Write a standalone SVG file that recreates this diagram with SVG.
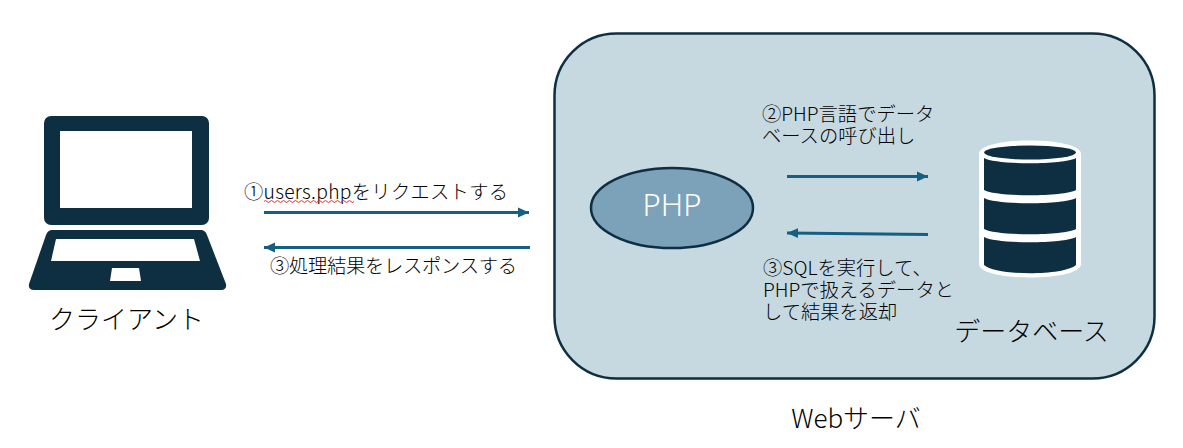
<svg xmlns="http://www.w3.org/2000/svg" width="1183" height="448" viewBox="0 0 1183 448">
<style>
text{font-family:"Noto Sans CJK JP","Liberation Sans",sans-serif;fill:#000;font-weight:300}
.m{font-size:19.3px}
.l{font-size:26px}
.c{fill:none;stroke:#156082;stroke-width:3}
.d{fill:#0e2f42}
.w{fill:#fff}
</style>
<defs>
<marker id="a" markerUnits="userSpaceOnUse" markerWidth="12" markerHeight="12" refX="11" refY="6" orient="auto"><path d="M0 1L11 6L0 11Z" fill="#156082"/></marker>
</defs>
<rect width="1183" height="448" fill="#fff"/>
<g id="server">
<rect x="554.500" y="33.500" width="600" height="345" rx="62" fill="#c6d8e0" stroke="#0e2f42" stroke-width="2.500"/>
<text class="l" x="856" y="428" text-anchor="middle">Webサーバ</text>
</g>
<g id="client">
<rect class="d" x="44" y="116" width="165" height="109" rx="7"/>
<rect class="w" x="60" y="131" width="132" height="77"/>
<path class="d" d="M52 230H201Q205 230 207 235L226 284Q227 290 221 290H34Q28 290 29 284L46 235Q48 230 52 230Z"/>
<path class="w" d="M56 239H194L200 261H51Z"/>
<path class="w" d="M112 268H139L141 281H110Z"/>
<text class="l" x="126.500" y="329" text-anchor="middle">クライアント</text>
</g>
<g id="php">
<ellipse cx="672" cy="208" rx="81" ry="40" fill="#7ba2b9" stroke="#0e2f42" stroke-width="2.500"/>
<text x="672" y="216" text-anchor="middle" style="font-size:31px;fill:#fff;font-family:'Noto Sans','Liberation Sans',sans-serif">PHP</text>
</g>
<g id="database">
<path class="w" d="M979 154C979 136 1081 136 1081 154V264C1081 282 979 282 979 264Z"/>
<ellipse class="d" cx="1030" cy="152.500" rx="46" ry="7"/>
<path class="d" d="M984 158C996 165 1064 165 1076 158V190C1064 197 996 197 984 190Z"/>
<path class="d" d="M984 198C996 205 1064 205 1076 198V229C1064 236 996 236 984 229Z"/>
<path class="d" d="M984 237C996 244 1064 244 1076 237V265C1064 276 996 276 984 265Z"/>
<text class="l" x="1031.500" y="341" text-anchor="middle">データベース</text>
</g>
<g id="labels">
<text class="m" x="244" y="198.500" textLength="264">①users.phpをリクエストする</text>
<path d="M264 201.500q1.500 -2 3 0t3 0t3 0t3 0t3 0t3 0t3 0t3 0t3 0t3 0t3 0t3 0t3 0t3 0t3 0t3 0t3 0t3 0t3 0t3 0t3 0t3 0t3 0t3 0t3 0t3 0t3 0t3 0t3 0t3 0" fill="none" stroke="#e03030" stroke-width="1"/>
<text class="m" x="270" y="273" textLength="247">③処理結果をレスポンスする</text>
<text class="m" x="762" y="120.500"><tspan x="762">②PHP言語でデータ</tspan><tspan x="762" dy="22.500">ベースの呼び出し</tspan></text>
<text class="m" x="763" y="275"><tspan x="763">③SQLを実行して、</tspan><tspan x="763" dy="22">PHPで扱えるデータと</tspan><tspan x="763" dy="22">して結果を返却</tspan></text>
</g>
<g id="connectors">
<path class="c" d="M264 212.500H529" marker-end="url(#a)"/>
<path class="c" d="M530 247.500H264" marker-end="url(#a)"/>
<path class="c" d="M787 176.500H928" marker-end="url(#a)"/>
<path class="c" d="M928 234.500L787 233" marker-end="url(#a)"/>
</g>
</svg>
